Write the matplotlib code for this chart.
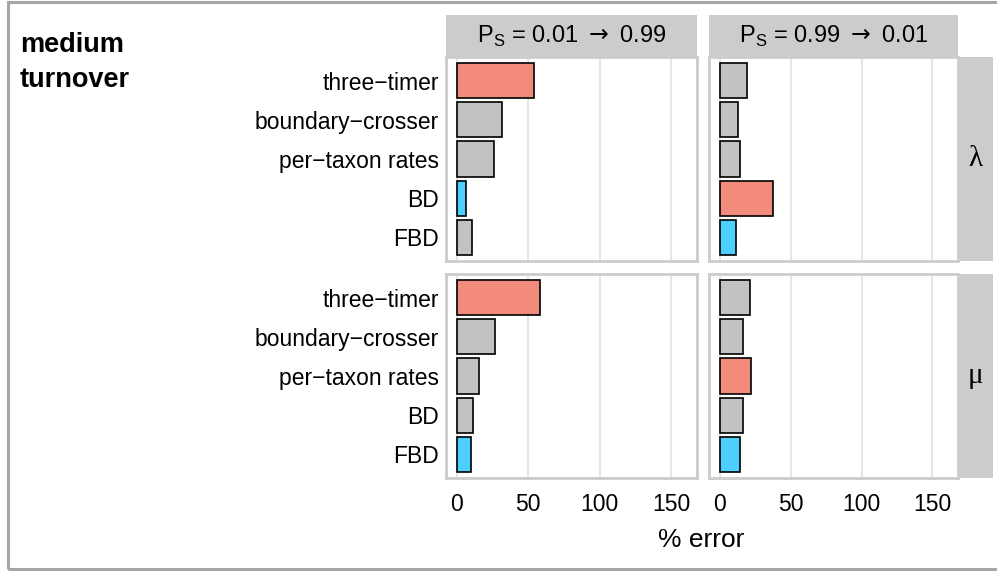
import numpy as np
import matplotlib.pyplot as plt
from matplotlib.patches import Rectangle

plt.rcParams['font.family'] = ['Liberation Sans', 'DejaVu Sans']

methods = ['three\u2212timer', 'boundary\u2212crosser', 'per\u2212taxon rates', 'BD', 'FBD']
col_titles = ['0.01', '0.99']
row_titles = ['\u03bb', '\u03bc']

# % error, rows = rate (lambda, mu), cols = P_S direction
err_lambda_up = [54, 32, 26, 6.5, 10.5]
err_lambda_down = [19, 12.7, 14, 37.5, 11.5]
err_mu_up = [58, 27, 15.7, 11.3, 10.3]
err_mu_down = [21.5, 16.6, 22, 16.6, 14.5]
errors = [[err_lambda_up, err_lambda_down], [err_mu_up, err_mu_down]]

xticks = [0, 50, 100, 150]

W, H = 997, 571
fig = plt.figure(figsize=(W / 100, H / 100), dpi=100)

def box(x0, y0, x1, y1):
    return [x0 / W, 1 - y1 / H, (x1 - x0) / W, (y1 - y0) / H]

# outer frame
fig.patches.append(Rectangle((8 / W, 1 - 569 / H), 1.2, (567) / H, transform=fig.transFigure,
                             fill=False, edgecolor='#a6a6a6', linewidth=2.2))

fig.text(20 / W, 1 - 45 / H, 'medium', fontsize=19.5, fontweight='bold', va='center')
fig.text(20 / W, 1 - 80 / H, 'turnover', fontsize=19.5, fontweight='bold', va='center')

xs = [(446, 697), (709, 958)]
ys = [(57, 261), (274, 478)]
red, grey, blue = '#F28B7B', '#C2C2C2', '#4CCFFF'

for r in range(2):
    for c in range(2):
        vals = np.array(errors[r][c])
        colors = [grey] * len(vals)
        colors[int(np.argmax(vals))] = red
        colors[int(np.argmin(vals))] = blue
        ax = fig.add_axes(box(xs[c][0], ys[r][0], xs[c][1], ys[r][1]))
        ypos = np.arange(len(methods))[::-1] + 1
        ax.barh(ypos, vals, height=0.9, color=colors, edgecolor='black', linewidth=1.2, zorder=3)
        ax.set_xlim(-7.5, 168)
        ax.set_ylim(0.4, 5.6)
        ax.set_xticks(xticks)
        for x in xticks:
            ax.axvline(x, color='#e6e6e6', linewidth=1.4, zorder=1)
        ax.tick_params(axis='x', length=0, labelsize=16.5, pad=11)
        ax.tick_params(axis='y', length=0, labelsize=16.5, pad=5)
        if c == 0:
            ax.set_yticks(ypos)
            ax.set_yticklabels(methods)
        else:
            ax.set_yticks([])
        if r == 0:
            ax.set_xticklabels([])
        for s in ax.spines.values():
            s.set_color('#cccccc')
            s.set_linewidth(2)
        # strips
        if r == 0:
            sax = fig.add_axes(box(xs[c][0], 15, xs[c][1], 57))
            sax.set_facecolor('#cccccc')
            sax.set_xticks([]); sax.set_yticks([])
            for s in sax.spines.values():
                s.set_visible(False)
            lab = r'P$_\mathregular{S}$ = ' + col_titles[c] + r' $\rightarrow$ ' + col_titles[1 - c]
            sax.text(0.5, 0.5, lab, ha='center', va='center',
                     fontsize=17, transform=sax.transAxes)
        if c == 1:
            sax = fig.add_axes(box(958, ys[r][0], 993, ys[r][1]))
            sax.set_facecolor('#cccccc')
            sax.set_xticks([]); sax.set_yticks([])
            for s in sax.spines.values():
                s.set_visible(False)
            sax.text(0.5, 0.5, row_titles[r], ha='center', va='center', fontsize=21,
                     family='Liberation Serif', transform=sax.transAxes)

fig.text(701 / W, 1 - 540 / H, '% error', ha='center', va='center', fontsize=19)

fig.savefig('out.png', dpi=100)
